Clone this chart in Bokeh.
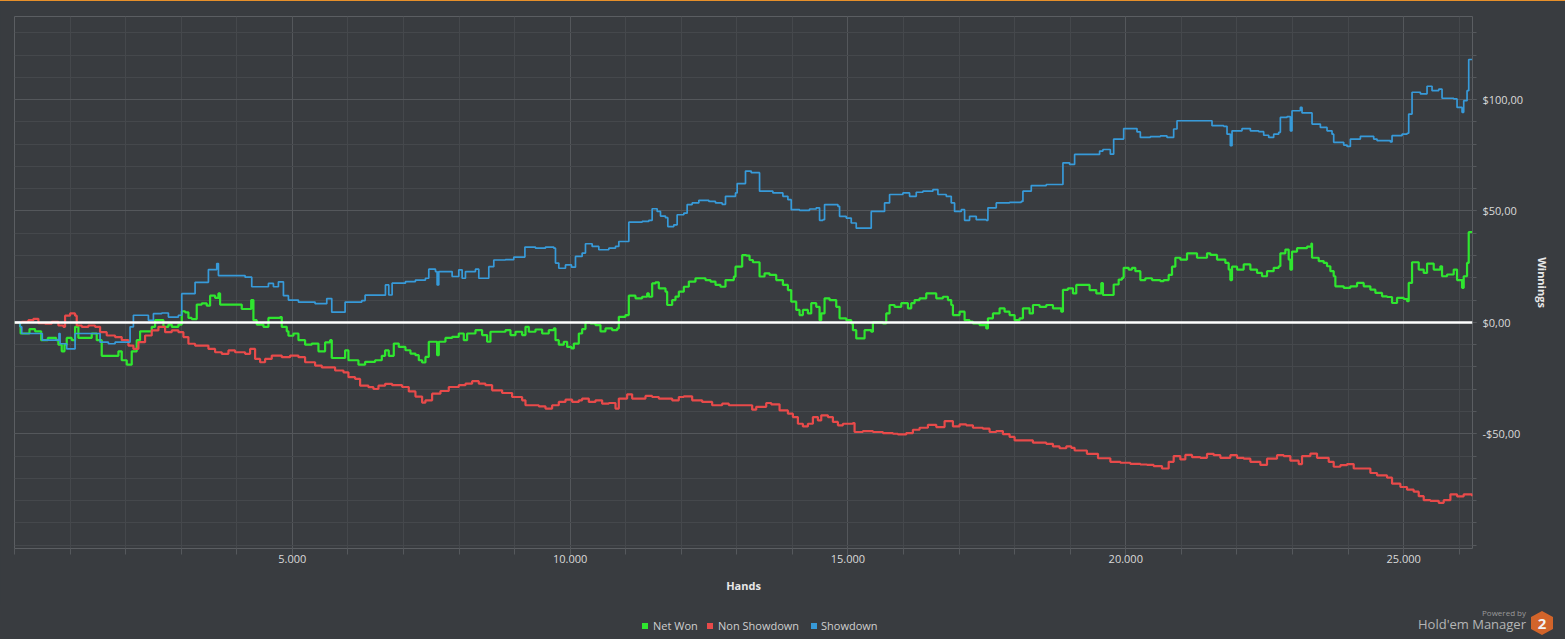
from bokeh.plotting import figure
from bokeh.layouts import column
from bokeh.models import Range1d, FixedTicker, Span, Div
from bokeh.embed import file_html
from bokeh.resources import INLINE

FONT = "Open Sans"
BG = "#393c40"

# ---------------- data ----------------
series_names = ["Net Won", "Non Showdown", "Showdown"]
series_colors = ["#2fe62f", "#e84a4a", "#379ad9"]

x_tick_vals = [5000, 10000, 15000, 20000, 25000]
x_tick_labels = ["5.000", "10.000", "15.000", "20.000", "25.000"]
y_tick_vals = [-50, 0, 50, 100]
y_tick_labels = ["-$50,00", "$0,00", "$50,00", "$100,00"]
x_minor_vals = [0, 1000, 2000, 3000, 4000, 5000, 6000, 7000, 8000, 9000, 10000, 11000, 12000, 13000,
                14000, 15000, 16000, 17000, 18000, 19000, 20000, 21000, 22000, 23000, 24000, 25000, 26000]
y_minor_vals = [-100, -90, -80, -70, -60, -50, -40, -30, -20, -10, 0, 10, 20, 30, 40, 50, 60, 70, 80,
                90, 100, 110, 120, 130]

net_won = [
    (0, 0), (100, -2), (110, -5), (130, -5), (270, -3), (370, -4), (460, -4), (480, -8), (550, -8), (600, -7),
    (750, -8), (790, -10), (850, -13), (900, -10), (940, -7), (1030, -8), (1090, -2), (1150, -7), (1390, -5),
    (1480, -8), (1570, -15), (1620, -15), (1810, -15), (1870, -13), (1930, -17), (2020, -19), (2080, -19),
    (2110, -13), (2200, -8), (2260, -4), (2350, -4), (2470, -2), (2530, 1), (2620, 1), (2680, -2), (2770, -1),
    (2830, -2), (2950, -1), (3010, 5), (3070, 4.5), (3130, 2), (3190, 1.5), (3280, 8), (3370, 8.5), (3460, 7.5),
    (3520, 12), (3610, 11), (3670, 13), (3700, 8), (3850, 8), (3970, 8), (4090, 6), (4210, 6), (4260, 10),
    (4300, 1), (4360, -1), (4480, -2), (4570, 2), (4690, 2), (4780, 2.4), (4810, -2), (4900, -4), (4930, -6),
    (5020, -5), (5110, -8), (5230, -10), (5350, -9.5), (5470, -13), (5590, -9), (5680, -8), (5710, -16),
    (5920, -16), (5950, -12.6), (6010, -17), (6190, -19), (6310, -17.7), (6490, -17), (6610, -15), (6670, -12.6),
    (6736, -15), (6826, -9.5), (6916, -11), (7036, -12.5), (7126, -14), (7216, -14.7), (7276, -17), (7336, -18),
    (7396, -15.5), (7456, -8.7), (7546, -8.7), (7606, -14.7), (7636, -8.7), (7756, -7), (7876, -6.5), (7996, -5),
    (8086, -8), (8146, -5), (8296, -3.5), (8416, -5.7), (8506, -8.7), (8566, -4.2), (8686, -4.2), (8836, -3.5),
    (8926, -5.7), (9016, -4.2), (9136, -5.7), (9196, -2), (9256, -4.2), (9376, -3.2), (9496, -5), (9616, -3.5),
    (9706, -2.7), (9736, -8), (9796, -10), (9886, -8.7), (9946, -11), (10024, -11.7), (10066, -9.5),
    (10156, -5), (10216, -3), (10276, 0), (10366, -0.5), (10456, -1.2), (10546, -4), (10636, -2.7),
    (10756, -3.5), (10846, -2.7), (10876, 2.5), (10996, 3.3), (11056, 12), (11176, 10.8), (11296, 11.5),
    (11386, 13), (11416, 11.5), (11476, 17.5), (11536, 18), (11596, 15.3), (11716, 13.8), (11746, 7.8),
    (11836, 10), (11896, 11.6), (11956, 13.8), (12046, 16), (12136, 18.3), (12256, 19.8), (12436, 19),
    (12526, 18.3), (12616, 16.8), (12706, 16), (12796, 19), (12946, 20.5), (12976, 25), (13096, 30.2),
    (13169, 30), (13229, 28), (13289, 27), (13409, 20.6), (13499, 22), (13589, 21.3), (13709, 19), (13829, 16.8),
    (13919, 14.5), (13979, 9.3), (14069, 5.6), (14129, 3.3), (14189, 5.6), (14279, 4), (14339, 8.6),
    (14429, 7), (14489, 1), (14519, 4), (14579, 10.8), (14669, 10), (14789, 7), (14849, 1.8), (14969, 1),
    (15059, -0.5), (15089, -3.5), (15149, -7.2), (15269, -7.2), (15299, -3.5), (15419, -4.2), (15449, 0),
    (15569, 0), (15629, -0.5), (15689, 4), (15749, 7.8), (15839, 7), (15959, 8.6), (16079, 6.3), (16139, 8.6),
    (16199, 10), (16289, 10.8), (16409, 13), (16499, 13), (16589, 10.8), (16709, 11.5), (16799, 10),
    (16859, 7.8), (16889, 3.3), (17009, 4.8), (17069, 4.8), (17099, 1), (17189, 0.3), (17249, -0.5),
    (17369, -1.2), (17489, -2.7), (17519, 1.8), (17609, 4), (17729, 6.3), (17819, 4.8), (17909, 3.3),
    (17999, 1), (18089, 1.8), (18149, 6.3), (18269, 4), (18329, 7.8), (18449, 7), (18569, 7.8), (18689, 6.3),
    (18839, 4.8), (18869, 14.6), (18959, 15.3), (19049, 13), (19109, 16.8), (19229, 16.8), (19349, 14.5),
    (19469, 13), (19559, 17.6), (19589, 12.3), (19709, 12.3), (19782, 17), (19872, 19.2), (19932, 20),
    (19962, 24.5), (20052, 23.7), (20112, 24.5), (20172, 23), (20262, 19), (20352, 19.8), (20472, 19),
    (20622, 18.5), (20682, 19), (20772, 21.3), (20832, 25), (20892, 29), (20982, 28.2), (21102, 31),
    (21282, 29), (21462, 31), (21522, 30.3), (21642, 28.2), (21792, 26.7), (21852, 23.7), (21882, 19),
    (21912, 25), (22002, 23.7), (22122, 26), (22242, 23.7), (22362, 22.2), (22452, 20.7), (22542, 23),
    (22662, 24.5), (22752, 25.2), (22782, 31), (22872, 32.7), (22932, 28.2), (22962, 23.7), (22992, 31.8),
    (23082, 33.3), (23172, 33.3), (23262, 34), (23340, 35.4), (23352, 29), (23472, 27.5), (23562, 26.7),
    (23622, 25.2), (23682, 23), (23742, 20.7), (23772, 16.2), (23922, 15.5), (24042, 16.2), (24162, 17.7),
    (24282, 16.2), (24402, 14.7), (24492, 13.2), (24612, 11.7), (24702, 11.4), (24792, 8.7), (24882, 11),
    (25002, 10.5), (25062, 9.5), (25092, 17.7), (25152, 27), (25272, 23.7), (25362, 22.2), (25422, 26.4),
    (25542, 23.7), (25662, 25.2), (25692, 20.7), (25782, 21.5), (25902, 23.7), (25962, 19), (26052, 15.5),
    (26082, 20.7), (26142, 26.7), (26172, 40.5), (26232, 40.5),
]

non_showdown = [
    (0, 0), (130, 0.2), (250, 1), (340, 1.6), (430, -0.3), (550, -0.6), (670, 0.2), (790, -1.4), (880, -2),
    (910, 3), (1000, 4), (1090, 3), (1120, -1.4), (1210, -2), (1330, -1.4), (1450, -2), (1540, -4.4),
    (1660, -5.9), (1810, -6.6), (1930, -8), (2050, -10.4), (2140, -11.9), (2230, -8.9), (2350, -5.9),
    (2470, -3.6), (2590, -2), (2650, -2), (2710, -4.4), (2830, -3.6), (2950, -4.4), (3040, -6.6), (3130, -9.6),
    (3250, -10.4), (3370, -10.4), (3490, -11.9), (3610, -13.4), (3730, -14.1), (3850, -12.6), (3970, -13.4),
    (4150, -14.1), (4240, -11.9), (4330, -16.4), (4420, -17.9), (4510, -16.4), (4630, -14.9), (4810, -15.6),
    (4960, -14.9), (5110, -15.6), (5230, -17.9), (5410, -19.4), (5530, -20.2), (5650, -20.2), (5770, -21.6),
    (5920, -22.4), (6010, -24.6), (6130, -25.4), (6220, -28.4), (6370, -29.1), (6460, -29.9), (6550, -28.4),
    (6670, -27.6), (6796, -28.2), (6976, -29), (7096, -31), (7216, -33.3), (7336, -36), (7396, -35),
    (7516, -32), (7666, -30.8), (7816, -29), (7996, -28.2), (8116, -27.5), (8236, -26.4), (8356, -27.5),
    (8476, -28.2), (8596, -30.5), (8776, -31.7), (8956, -33.5), (9136, -35), (9196, -37.2), (9316, -37.2),
    (9436, -37.7), (9556, -38.7), (9676, -37.2), (9796, -35.7), (9916, -34.7), (10036, -35.7), (10156, -35),
    (10216, -34.2), (10336, -35.7), (10456, -35), (10576, -36.5), (10696, -36.2), (10816, -38.7),
    (10876, -34.2), (11026, -32.3), (11116, -34.2), (11236, -34.2), (11356, -33), (11476, -33.5),
    (11596, -34.2), (11716, -34.2), (11836, -35), (11956, -33.5), (12046, -33.2), (12196, -35), (12376, -35.7),
    (12556, -37.2), (12736, -36.5), (12856, -37.2), (13036, -37.2), (13156, -37.2), (13276, -39.2),
    (13349, -37.9), (13529, -36.2), (13619, -36.8), (13769, -39.5), (13919, -41), (14009, -42.5),
    (14099, -45.5), (14189, -46.7), (14279, -45.5), (14369, -42.5), (14459, -44), (14519, -41.7),
    (14639, -42.5), (14729, -44.7), (14819, -46.2), (14909, -45.5), (15089, -45.2), (15119, -49.2),
    (15269, -48.8), (15449, -49.2), (15629, -49.7), (15809, -50), (15899, -50.3), (16049, -49.7),
    (16169, -48.2), (16289, -47.3), (16439, -46), (16589, -47), (16739, -44.3), (16889, -46.7), (17009, -45.8),
    (17129, -46.2), (17249, -47.3), (17429, -47.7), (17549, -49.2), (17669, -48.8), (17789, -50.2),
    (17909, -51.4), (17999, -53), (18149, -53), (18329, -54), (18449, -54), (18569, -54.5), (18689, -55.7),
    (18809, -56.5), (18929, -55.7), (19019, -56.3), (19079, -57.5), (19300, -59), (19500, -61),
    (19722, -62.6), (19902, -63), (20082, -63.5), (20262, -63.8), (20382, -64), (20502, -64.5), (20652, -65.6),
    (20772, -62.6), (20862, -60), (20982, -61.5), (21072, -59.5), (21192, -60.5), (21342, -60.8), (21462, -59),
    (21582, -59.6), (21702, -60.8), (21882, -59.6), (22002, -60.8), (22122, -61.2), (22242, -62.6),
    (22422, -64), (22542, -61.2), (22722, -59.6), (22842, -60), (22962, -62.1), (23112, -63.6), (23172, -60),
    (23322, -58.9), (23442, -60.8), (23562, -60.8), (23652, -62.6), (23742, -64.8), (23862, -64.1),
    (23982, -63.6), (24102, -65.6), (24282, -65.6), (24402, -67.6), (24522, -68.7), (24702, -69.7),
    (24792, -72.4), (24942, -73.9), (25062, -75.1), (25182, -76), (25272, -78), (25362, -79.8), (25482, -80.1),
    (25632, -81), (25722, -79.8), (25842, -77.2), (25962, -78.1), (26082, -77.2), (26232, -78.1),
]

showdown = [
    (0, 0), (100, -2), (130, -5), (370, -5), (500, -8), (790, -8), (800, -5), (820, -9.6), (940, -11.9),
    (1060, -11.9), (1090, -5), (1330, -5), (1450, -5), (1540, -8.9), (1690, -9.6), (1810, -8.9), (1930, -8.9),
    (2080, -2), (2140, 3.2), (2380, 3.2), (2410, 0.9), (2500, 3.9), (2650, 4.2), (2770, 2.4), (2950, 3.2),
    (3010, 12.9), (3190, 12.9), (3250, 18), (3460, 18), (3490, 23.7), (3640, 26.4), (3670, 21), (3910, 21),
    (4150, 20.3), (4270, 16), (4510, 16), (4570, 17.5), (4660, 16), (4750, 18.2), (4810, 18.2), (4840, 12),
    (4930, 10), (4990, 10), (5110, 9.1), (5290, 9.1), (5410, 8.4), (5620, 10.7), (5680, 10.7), (5710, 4.6),
    (5920, 4.6), (5950, 9.1), (6250, 9.8), (6310, 12.2), (6610, 12.2), (6676, 16.8), (6736, 12.3), (6796, 17.6),
    (6976, 17.6), (7036, 18.3), (7216, 19), (7396, 19.8), (7456, 23.9), (7576, 22.8), (7606, 16.8),
    (7636, 22.8), (7816, 22.8), (7876, 20.6), (7996, 23.6), (8056, 19.8), (8116, 22.8), (8296, 23.9),
    (8356, 19.8), (8506, 19.8), (8536, 25), (8626, 28), (8836, 28.2), (8986, 29.3), (9136, 29.3), (9186, 33.8),
    (9376, 33.3), (9556, 33.8), (9706, 33.3), (9736, 26.6), (9796, 24.3), (9916, 25.8), (10024, 24.8),
    (10096, 29.6), (10216, 31.1), (10276, 35.3), (10396, 34.1), (10516, 32.6), (10696, 33.3), (10816, 34.1),
    (10876, 36.3), (11026, 36.3), (11056, 45), (11296, 45.3), (11416, 45.8), (11476, 51), (11566, 49.8),
    (11626, 47.7), (11716, 47), (11758, 43), (11866, 43.8), (11926, 48.3), (12046, 49), (12106, 52.9),
    (12196, 53.6), (12316, 54.8), (12496, 54.3), (12616, 53.6), (12736, 53), (12796, 56.6), (12976, 58.1),
    (13006, 62.3), (13126, 62.3), (13156, 67.9), (13259, 67.2), (13409, 58.9), (13649, 58.1), (13829, 56.6),
    (13919, 55.1), (13979, 50.6), (14129, 50.3), (14309, 50.9), (14429, 51.4), (14489, 45.8), (14549, 46.1),
    (14579, 52.9), (14819, 52.1), (14849, 47.6), (14969, 46.8), (15059, 44.6), (15149, 42.3), (15269, 42.3),
    (15419, 49.8), (15569, 49.8), (15659, 53.6), (15749, 57.4), (15989, 58.1), (16109, 56.6), (16229, 58.4),
    (16349, 58.9), (16529, 59.6), (16619, 57.4), (16769, 56.6), (16859, 53.6), (16919, 49.8), (17039, 50.6),
    (17099, 45.8), (17189, 47.6), (17309, 46.1), (17489, 45.8), (17519, 51.4), (17669, 53.6), (17909, 53.9),
    (18119, 54.3), (18149, 58.9), (18269, 58.9), (18299, 61.4), (18569, 61.9), (18839, 61.9), (18869, 71.6),
    (18989, 70.9), (19079, 75.4), (19229, 75.4), (19529, 76.9), (19589, 77.6), (19722, 75.5), (19782, 82.3),
    (19932, 82.3), (19962, 87), (20142, 87), (20202, 85.5), (20262, 83), (20442, 83.4), (20622, 83.7),
    (20742, 83), (20832, 83), (20862, 86.8), (20922, 90.5), (21222, 90.5), (21492, 90.5), (21552, 88.3),
    (21762, 88), (21822, 84.5), (21882, 79.3), (21912, 86), (22092, 87), (22242, 86), (22392, 85.6),
    (22482, 84), (22572, 83), (22662, 84.5), (22752, 85.3), (22782, 92), (22902, 92.4), (22962, 86),
    (22992, 95), (23142, 96.5), (23172, 94), (23322, 94), (23352, 89), (23502, 87.5), (23622, 86), (23712, 84.5),
    (23742, 80.8), (23922, 79.6), (23982, 79), (24042, 82.3), (24222, 83.5), (24462, 82.3), (24522, 81.6),
    (24762, 81), (24792, 83.8), (24972, 84.5), (25062, 84.9), (25092, 93.5), (25152, 103.3), (25302, 102.6),
    (25422, 106), (25512, 104), (25632, 104.7), (25692, 100.6), (25902, 100.3), (25962, 96.5), (26052, 94.3),
    (26082, 99.5), (26142, 104), (26172, 118), (26232, 118),
]

series_data = [net_won, non_showdown, showdown]
series_widths = [2.2, 2.2, 1.7]

# ---------------- main chart ----------------
p = figure(frame_width=1458, frame_height=531,
           x_range=Range1d(0, 26240), y_range=Range1d(-101.5, 137.3),
           y_axis_location="right", output_backend="svg", toolbar_location=None,
           min_border_left=14, min_border_top=15, min_border_right=93, min_border_bottom=58,
           background_fill_color=BG, border_fill_color=BG, outline_line_color="#5b5e62")
p.margin = 0

xt = FixedTicker(ticks=x_tick_vals, minor_ticks=x_minor_vals)
yt = FixedTicker(ticks=y_tick_vals, minor_ticks=y_minor_vals)
p.xaxis.ticker = xt
p.yaxis.ticker = yt
p.xgrid.ticker = xt
p.ygrid.ticker = yt
p.xaxis.major_label_overrides = dict(zip(x_tick_vals, x_tick_labels))
p.yaxis.major_label_overrides = dict(zip(y_tick_vals, y_tick_labels))

for g in (p.xgrid, p.ygrid):
    g.grid_line_color = "#54575b"
    g.minor_grid_line_color = "#45484c"

for ax in (p.xaxis, p.yaxis):
    ax.axis_line_color = None
    ax.major_tick_in = 0
    ax.minor_tick_in = 0
    ax.major_tick_out = 4
    ax.minor_tick_out = 4
    ax.major_tick_line_color = "#55585c"
    ax.minor_tick_line_color = "#55585c"
    ax.major_label_text_font = FONT
    ax.major_label_text_font_size = "11px"
    ax.major_label_text_color = "#dadada"
    ax.axis_label_text_font = FONT
    ax.axis_label_text_font_size = "11px"
    ax.axis_label_text_font_style = "bold"
    ax.axis_label_text_color = "#e8e8e8"

p.xaxis.major_tick_out = 6
p.xaxis.minor_tick_out = 6
p.xaxis.axis_label = "Hands"
p.xaxis.major_label_standoff = 0
p.xaxis.axis_label_standoff = 12
p.yaxis.axis_label = "Winnings"
p.yaxis.major_label_standoff = 6
p.yaxis.axis_label_standoff = 9

for name, color, width, data in zip(series_names, series_colors, series_widths, series_data):
    xs = [d[0] for d in data]
    ys = [d[1] for d in data]
    p.step(xs, ys, mode="after", line_color=color, line_width=width, legend_label=name)

p.legend.visible = False
p.add_layout(Span(location=0, dimension="width", line_color="#ffffff", line_width=2.5))
p.styles = {"border-top": "1px solid #e8902a", "background-color": BG}

# ---------------- footer strip: legend + logo (HTML) ----------------
legend_square_left = [642, 707, 811]
legend_text_left = [653, 718, 821]
legend_html = "".join(
    f'<span style="position:absolute;left:{sq}px;top:18px;width:6px;height:6px;background:{c};"></span>'
    f'<span style="position:absolute;left:{tx}px;top:13px;line-height:16px;font-size:11px;color:#cfcfcf;'
    f'white-space:nowrap;">{n}</span>'
    for sq, tx, c, n in zip(legend_square_left, legend_text_left, series_colors, series_names)
)
logo_html = (
    '<span style="position:absolute;right:39px;top:3px;line-height:10px;font-size:8px;color:#9a9a9a;'
    'white-space:nowrap;">Powered by</span>'
    '<span style="position:absolute;right:39px;top:11px;line-height:16px;font-size:13px;color:#b5b5b5;'
    'white-space:nowrap;">Hold\'em Manager</span>'
    '<span style="position:absolute;left:1531px;top:6px;width:22px;height:24px;background:#d2642a;'
    'clip-path:polygon(50% 0,100% 25%,100% 75%,50% 100%,0 75%,0 25%);color:#f2f2f2;font-weight:bold;'
    'font-size:15px;line-height:24px;text-align:center;">2</span>'
)
footer = Div(width=1565, height=34, margin=0,
             text=f'<div style="position:relative;width:1565px;height:34px;background:{BG};'
                  f'font-family:\'{FONT}\',sans-serif;">{legend_html}{logo_html}</div>',
             styles={"background-color": BG})

layout = column(p, footer, spacing=0, styles={"background-color": BG})
open("out.html", "w").write(file_html(layout, INLINE))
